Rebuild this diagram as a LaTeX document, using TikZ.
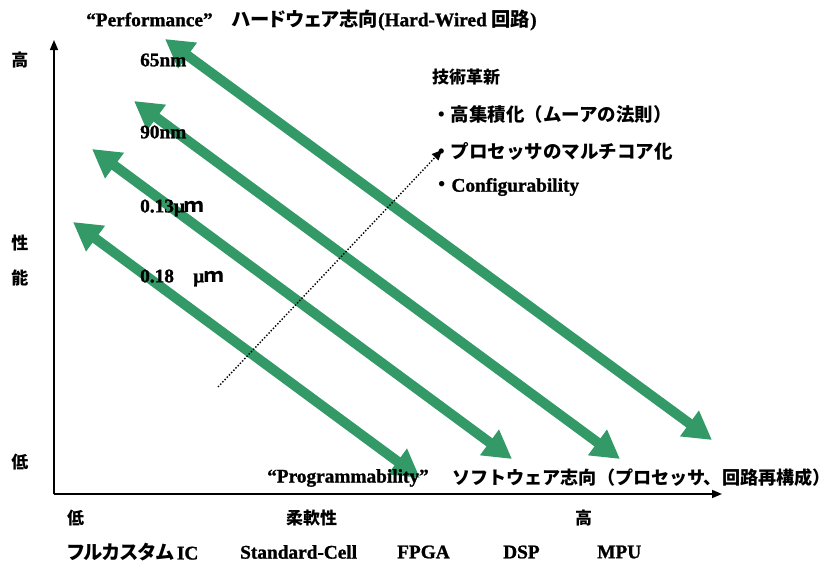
\documentclass[tikz,border=0pt]{standalone}
\usepackage{fontspec}
\setmainfont{Liberation Serif}[BoldFeatures={FakeBold=1.2}]
\newfontfamily\jp{Noto Sans CJK JP}
\newfontfamily\jpp{Noto Sans CJK JP}[RawFeature=+palt]
\usetikzlibrary{arrows.meta}
\definecolor{techgreen}{RGB}{51,153,102}
\newcommand\J[1]{{\jp #1}}
\newcommand\JP[1]{{\jpp #1}}
\tikzset{
  lbl/.style={inner sep=0pt, anchor=west, font=\fontsize{19.3}{22}\selectfont\bfseries},
  jlbl/.style={inner sep=0pt, font=\fontsize{17}{20}\selectfont\bfseries\jp},
  listlbl/.style={inner sep=0pt, anchor=west, font=\fontsize{18.5}{22}\selectfont\bfseries\jp},
  swlbl/.style={inner sep=0pt, anchor=west, font=\fontsize{18.1}{22}\selectfont\bfseries\jp},
  axis/.style={line width=1.5pt, -{Triangle[width=8pt,length=10pt]}},
  gen/.style={line width=10pt, draw=techgreen,
    {Triangle[width=30pt,length=28pt,fill=techgreen]}-{Triangle[width=30pt,length=28pt,fill=techgreen]}},
  trend/.style={line width=1.4pt, dash pattern=on 1.4pt off 1.8pt, -{Triangle[width=9pt,length=10pt]}}
}
\begin{document}
\begin{tikzpicture}[x=1pt,y=-1pt]
\useasboundingbox (0,0) rectangle (835,565);
% axes
\coordinate (o) at (54,494);
\coordinate (ytop) at (54,40);
\coordinate (xend) at (722,494);
\draw[axis] (o) -- (ytop);
\draw[axis] (o) -- (xend);
% green technology arrows
\coordinate (a1s) at (165,39);  \coordinate (a1e) at (712,440);
\coordinate (a2s) at (134,101); \coordinate (a2e) at (620,459);
\coordinate (a3s) at (92,149);  \coordinate (a3e) at (512,459);
\coordinate (a4s) at (73,222);  \coordinate (a4e) at (420,478);
\draw[gen] (a1s) -- (a1e);
\draw[gen] (a2s) -- (a2e);
\draw[gen] (a3s) -- (a3e);
\draw[gen] (a4s) -- (a4e);
% dotted trend arrow
\coordinate (ds) at (218,387);
\coordinate (de) at (442,150);
\draw[trend] (ds) -- (de);
% y-axis labels
\node[jlbl] (yhi) at (20,60) {高};
\node[jlbl] (ys1) at (20,243) {性};
\node[jlbl] (ys2) at (20,278) {能};
\node[jlbl] (ylo) at (20,462) {低};
% top / bottom titles
\node[lbl] (perf) at (86,20) {“Performance”\J{　}\JP{ハードウェア志向}(Hard-Wired \J{回路})};
\node[lbl] (prog) at (267,478) {“Programmability”};
\node[swlbl] (sw) at (452,478) {ソフトウェア志向（プロセッサ、回路再構成）};
% process nodes
\node[lbl] (n65) at (140,60) {65nm};
\node[lbl] (n90) at (140,132) {90nm};
\node[lbl] (n13) at (140,208) {0.13μ\J{ｍ}};
\node[lbl] (n18) at (140,278) {0.18\J{　}μ\J{ｍ}};
% innovation list
\node[jlbl, anchor=west] (tech) at (432,77) {技術革新};
\node[listlbl] (t1) at (432,114) {・高集積化（ムーアの法則）};
\node[listlbl] (t2) at (432,151) {・プロセッサのマルチコア化};
\node[lbl] (t3) at (432,187) {\J{・}Configurability};
% x-axis labels
\node[jlbl, anchor=west] (xlo) at (67,518) {低};
\node[jlbl, anchor=west] (xmid) at (286,518) {柔軟性};
\node[jlbl, anchor=west] (xhi) at (575,518) {高};
\node[lbl] (d1) at (67,552) {\JP{フルカスタム}\,IC};
\node[lbl] (d2) at (240,552) {Standard-Cell};
\node[lbl] (d3) at (397,552) {FPGA};
\node[lbl] (d4) at (503,552) {DSP};
\node[lbl] (d5) at (597,552) {MPU};
\end{tikzpicture}
\end{document}
